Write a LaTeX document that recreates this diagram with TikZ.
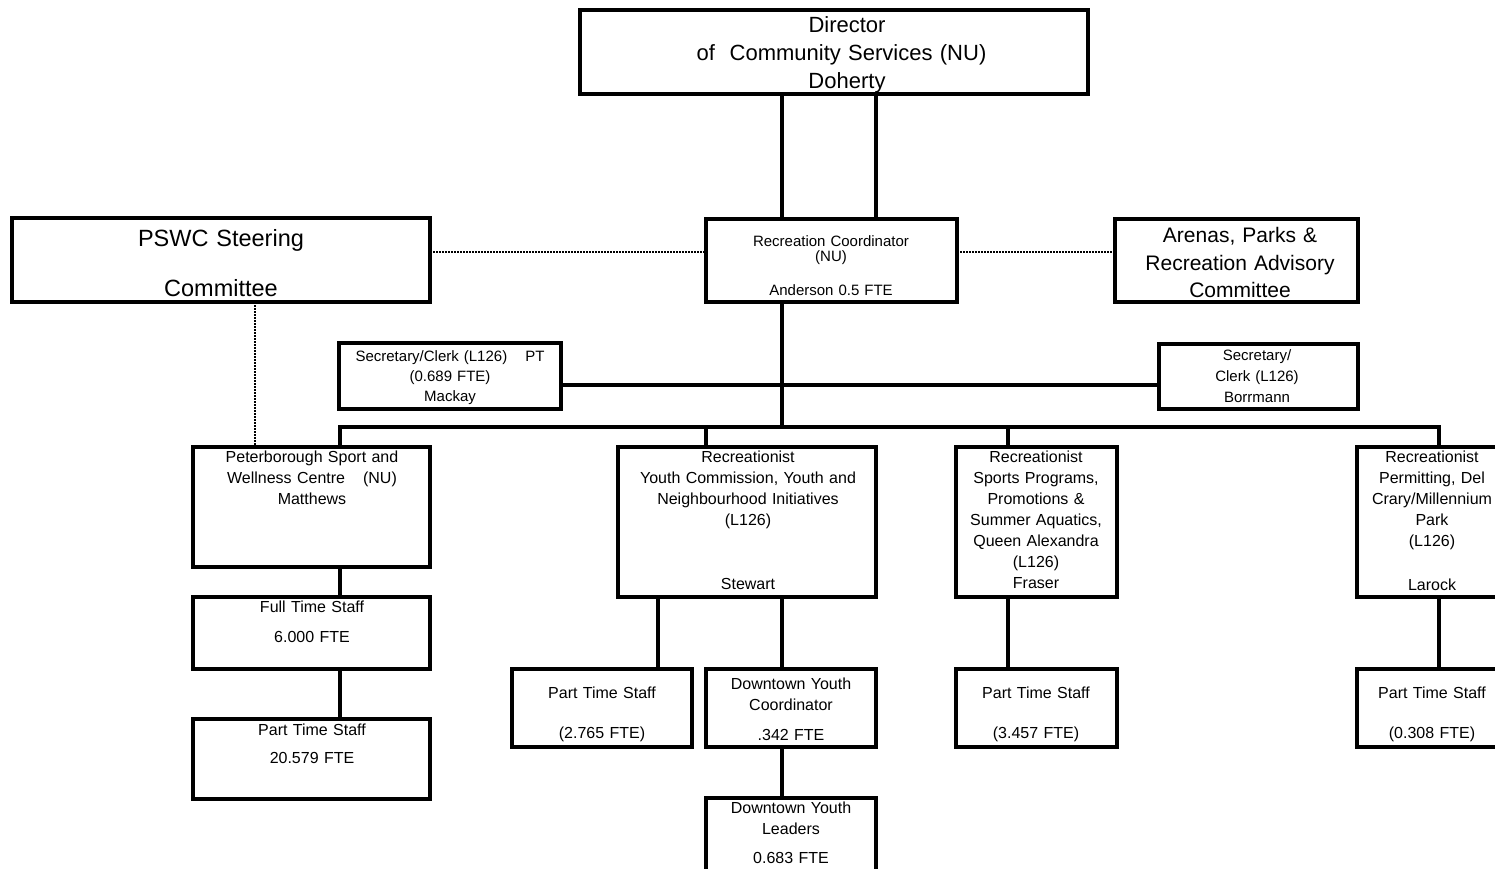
\documentclass[tikz,border=0pt]{standalone}
\usepackage{fontspec}
\setmainfont{Liberation Sans}
\begin{document}
\begin{tikzpicture}[x=1pt,y=-1pt,
  box/.style={draw, line width=4pt, rectangle, outer sep=0pt, inner sep=0pt, anchor=north west},
  txt/.style={inner sep=0pt, anchor=base, align=center, text width=300pt},
  link/.style={line width=4pt},
  dotlink/.style={line width=2.5pt, dash pattern=on 1.5pt off 1.5pt},
  fbig/.style={font=\fontsize{22}{28}\selectfont},
  fsmall/.style={font=\fontsize{16}{21}\selectfont},
  fnarrow/.style={font=\fontsize{15}{20}\selectfont}]

\path[use as bounding box] (0,0) rectangle (1495,869);
\clip (0,0) rectangle (1495,869);

% ---- boxes ----
\node[box, minimum width=508pt, minimum height=84pt]  (dir)    at (580,10)   {};
\node[box, minimum width=418pt, minimum height=84pt]  (pswc)   at (12,218)   {};
\node[box, minimum width=251pt, minimum height=83pt]  (coord)  at (706,219)  {};
\node[box, minimum width=243pt, minimum height=83pt]  (arenas) at (1115,219) {};
\node[box, minimum width=222pt, minimum height=66pt]  (mack)   at (339,343)  {};
\node[box, minimum width=199pt, minimum height=65pt]  (borr)   at (1159,344) {};
\node[box, minimum width=237pt, minimum height=120pt] (peter)  at (193,447)  {};
\node[box, minimum width=258pt, minimum height=150pt] (youth)  at (618,447)  {};
\node[box, minimum width=161pt, minimum height=150pt] (fraser) at (956,447)  {};
\node[box, minimum width=146pt, minimum height=150pt] (larock) at (1357,447) {};
\node[box, minimum width=237pt, minimum height=72pt]  (fts)    at (193,597)  {};
\node[box, minimum width=237pt, minimum height=80pt]  (pts)    at (193,719)  {};
\node[box, minimum width=180pt, minimum height=78pt]  (pta)    at (512,669)  {};
\node[box, minimum width=170pt, minimum height=78pt]  (dyc)    at (706,669)  {};
\node[box, minimum width=170pt, minimum height=100pt] (dyl)    at (706,798)  {};
\node[box, minimum width=161pt, minimum height=78pt]  (ptb)    at (956,669)  {};
\node[box, minimum width=146pt, minimum height=78pt]  (ptc)    at (1357,669) {};

% ---- texts ----
\node[txt, fbig, text width=440pt] (tdir) at (847,32.4) {Director\\of~ Community Services (NU)\rule{11pt}{0pt}\\Doherty};
\node[txt, font=\fontsize{23.5}{25}\selectfont] (tpswc) at (221,246.4) {PSWC Steering\\[25pt]Committee};
\node[txt, font=\fontsize{15}{15}\selectfont] (tcoord) at (831,246.4) {Recreation Coordinator\\(NU)\\[19pt]Anderson 0.5 FTE};
\node[txt, font=\fontsize{21}{27.5}\selectfont] (tarenas) at (1240,242.5) {Arenas, Parks \&\\Recreation Advisory\\Committee};
\node[txt, fnarrow] (tmack) at (450,361.4) {Secretary/Clerk (L126)\hspace{18pt}PT\\(0.689 FTE)\\Mackay};
\node[txt, font=\fontsize{15}{21}\selectfont] (tborr) at (1257,360.4) {Secretary/\\Clerk (L126)\\Borrmann};
\node[txt, fsmall] (tpeter) at (312,462.7) {Peterborough Sport and\\Wellness Centre\hspace{18pt}(NU)\\Matthews};
\node[txt, fsmall] (tyouth) at (748,462.7) {Recreationist\\Youth Commission, Youth and\\Neighbourhood Initiatives\\(L126)\\[43pt]Stewart};
\node[txt, fsmall] (tfraser) at (1036,462.7) {Recreationist\\Sports Programs,\\Promotions \&\\Summer Aquatics,\\Queen Alexandra\\(L126)\\Fraser};
\node[txt, fsmall] (tlarock) at (1432,462.7) {Recreationist\\Permitting, Del\\Crary/Millennium\\Park\\(L126)\\[23pt]Larock};
\node[txt, fsmall] (tfts) at (312,612.7) {Full Time Staff\\[9pt]6.000 FTE};
\node[txt, fsmall] (tpts) at (312,735.7) {Part Time Staff\\[7pt]20.579 FTE};
\node[txt, fsmall] (tpta) at (602,698.7) {Part Time Staff\\[19pt](2.765 FTE)};
\node[txt, fsmall] (tdyc) at (791,689.7) {Downtown Youth\\Coordinator\\[9pt].342 FTE};
\node[txt, fsmall] (tdyl) at (791,813.7) {Downtown Youth\\Leaders\\[8pt]0.683 FTE};
\node[txt, fsmall] (tptb) at (1036,698.7) {Part Time Staff\\[19pt](3.457 FTE)};
\node[txt, fsmall] (tptc) at (1432,698.7) {Part Time Staff\\[19pt](0.308 FTE)};

% ---- connector columns and rows ----
\coordinate (xa) at (782,0);
\coordinate (xb) at (876,0);
\coordinate (xp) at (340,0);
\coordinate (xy) at (706,0);
\coordinate (xf) at (1008,0);
\coordinate (xl) at (1439,0);
\coordinate (xs) at (658,0);
\coordinate (xd) at (255,0);
\coordinate (dy) at (0,252);
\coordinate (sy) at (0,385);
\coordinate (bus) at (0,427);

% ---- solid reporting lines ----
\draw[link] (dir.south -| xa) -- (coord.north -| xa);
\draw[link] (dir.south -| xb) -- (coord.north -| xb);
\draw[link] (coord.south -| xa) -- (bus -| xa);
\draw[link] (mack.east |- sy) -- (borr.west |- sy);
\draw[link] (peter.north -| xp) -- (bus -| xp) -- (bus -| xl) -- (larock.north -| xl);
\draw[link] (bus -| xy) -- (youth.north -| xy);
\draw[link] (bus -| xf) -- (fraser.north -| xf);
\draw[link] (peter.south -| xp) -- (fts.north -| xp);
\draw[link] (fts.south -| xp) -- (pts.north -| xp);
\draw[link] (youth.south -| xs) -- (pta.north -| xs);
\draw[link] (youth.south -| xa) -- (dyc.north -| xa);
\draw[link] (dyc.south -| xa) -- (dyl.north -| xa);
\draw[link] (fraser.south -| xf) -- (ptb.north -| xf);
\draw[link] (larock.south -| xl) -- (ptc.north -| xl);

% ---- advisory (dotted) lines ----
\draw[dotlink] (pswc.east |- dy) -- (coord.west |- dy);
\draw[dotlink] (coord.east |- dy) -- (arenas.west |- dy);
\draw[dotlink] (pswc.south -| xd) -- (peter.north -| xd);
\end{tikzpicture}
\end{document}
